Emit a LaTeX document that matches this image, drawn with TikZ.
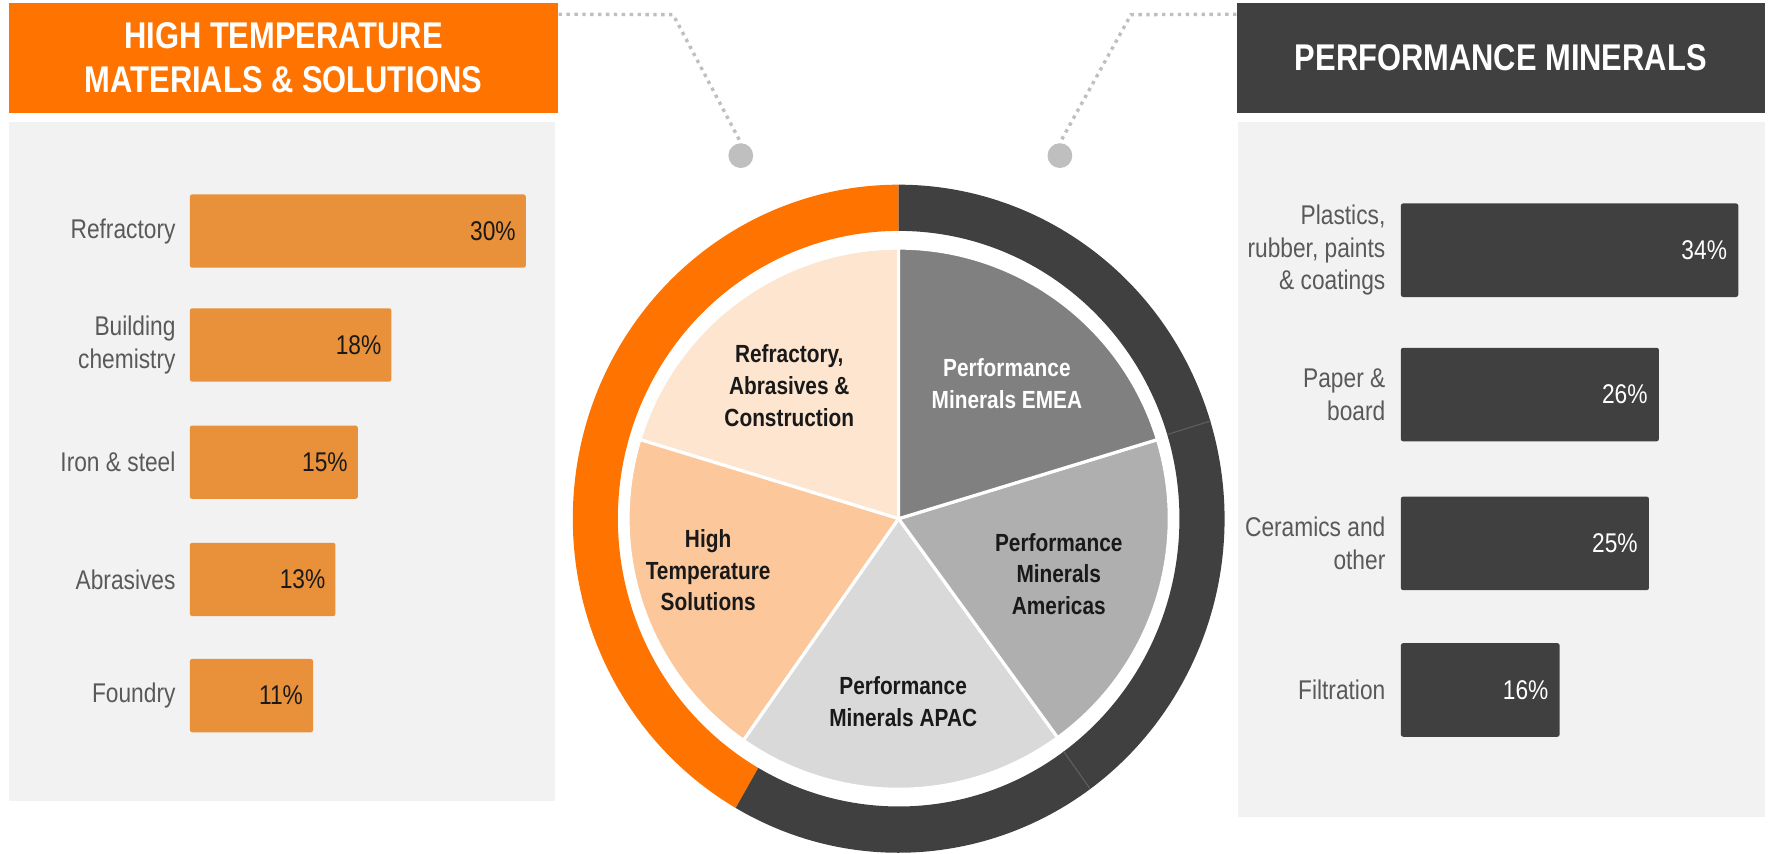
\documentclass[tikz,border=0pt]{standalone}
\usepackage{fontspec}
\setmainfont{Liberation Sans}[FakeStretch=0.84]
\newfontfamily\hdrfont{Liberation Sans}[FakeStretch=0.83]
\usetikzlibrary{calc}
\definecolor{hOrange}{HTML}{FF7300}
\definecolor{barOrange}{HTML}{E8903A}
\definecolor{darkg}{HTML}{404040}
\definecolor{panelg}{HTML}{F2F2F2}
\definecolor{lblg}{HTML}{595959}
\definecolor{dotg}{HTML}{BFBFBF}
\definecolor{sA}{HTML}{FDE5CF}
\definecolor{sB}{HTML}{FBC79B}
\definecolor{sC}{HTML}{D9D9D9}
\definecolor{sD}{HTML}{AFAFAF}
\definecolor{sE}{HTML}{808080}
\definecolor{ringln}{HTML}{5E5E5E}
\begin{document}
\begin{tikzpicture}[x=0.5pt,y=-0.5pt,
  hdr/.style={inner sep=0pt, text=white, align=center, font=\hdrfont\bfseries\fontsize{16.5}{19.5}\selectfont},
  barL/.style={fill=barOrange, rounded corners=1pt, inner sep=0pt, minimum height=32.5pt, anchor=north west},
  barR/.style={fill=darkg, rounded corners=1pt, inner sep=0pt, minimum height=41.5pt, anchor=north west},
  lbl/.style={text=lblg, align=right, anchor=east, inner sep=0pt, font=\fontsize{12}{14.5}\selectfont},
  pctL/.style={text=black!90, anchor=east, inner sep=0pt, font=\fontsize{12}{14.5}\selectfont},
  pctR/.style={text=white, anchor=east, inner sep=0pt, font=\fontsize{12}{14.5}\selectfont},
  pie/.style={align=center, inner sep=0pt, font=\bfseries\fontsize{11}{14}\selectfont},
  conn/.style={draw=dotg, line width=1.5pt, dash pattern=on 1.5pt off 2pt},
  dotc/.style={circle, fill=dotg, minimum size=11pt, inner sep=0pt},
  slice/.style={draw=white, line width=1.4pt, line join=round}
]
\useasboundingbox (0,0) rectangle (1568,757);

% headers
\node[hdr, fill=hOrange, minimum width=243.5pt, minimum height=48.5pt] (hl) at (251.5,51.5) {HIGH TEMPERATURE\\MATERIALS \& SOLUTIONS};
\node[hdr, fill=darkg, minimum width=234pt, minimum height=48.5pt] (hr) at (1331,51.5) {PERFORMANCE MINERALS};

% panels
\fill[panelg] (8,108) rectangle (492,710);
\fill[panelg] (1098,108) rectangle (1565,725);

% left bars
\foreach \lab/\p/\yt [count=\i] in {Refractory/30/172, {Building\\chemistry}/18/273, {Iron \& steel}/15/377, Abrasives/13/481, Foundry/11/584}{
  \node[barL, minimum width={4.965pt*\p}] (lb\i) at (168,\yt) {};
  \node[pctL] (lp\i) at ($(lb\i.east)+(-9,0)$) {\p\%};
  \node[lbl] (ll\i) at ($(lb\i.west)+(-12,0)$) {\lab};
}

% right bars
\foreach \lab/\p/\yt [count=\i] in {{Plastics,\\rubber, paints\\\& coatings}/34/180, {Paper \&\\board}/26/308, {Ceramics and\\other}/25/440, Filtration/16/570}{
  \node[barR, minimum width={4.4pt*\p}] (rb\i) at (1242,\yt) {};
  \node[pctR] (rp\i) at ($(rb\i.east)+(-10,0)$) {\p\%};
  \node[lbl] (rl\i) at ($(rb\i.west)+(-13,0)$) {\lab};
}

% connectors
\node[dotc] (ldot) at (657,138) {};
\node[dotc] (rdot) at (940,138) {};
\coordinate (lk) at (597,13);
\coordinate (rk) at (1003,13);
\draw[conn] ($(hl.north east)+(0,10)$) -- (lk) -- (ldot.north);
\draw[conn] ($(hr.north west)+(0,10)$) -- (rk) -- (rdot.north);

% outer ring
\begin{scope}[shift={(797,460)}, yscale=-1.025]
  \fill[hOrange] (90:289) arc[start angle=90, end angle=240, radius=289] -- (240:249) arc[start angle=240, end angle=90, radius=249] -- cycle;
  \fill[darkg] (240:289) arc[start angle=240, end angle=450, radius=289] -- (90:249) arc[start angle=450, end angle=240, radius=249] -- cycle;
  \draw[ringln, line width=0.5pt] (17:249) -- (17:289);
  \draw[ringln, line width=0.5pt] (-54:249) -- (-54:289);
\end{scope}

% pie
\begin{scope}[shift={(797,460)}, yscale=-1]
  \filldraw[slice, fill=sA] (0,0) -- (90:240) arc[start angle=90, end angle=163, radius=240] -- cycle;
  \filldraw[slice, fill=sB] (0,0) -- (163:240) arc[start angle=163, end angle=235, radius=240] -- cycle;
  \filldraw[slice, fill=sC] (0,0) -- (235:240) arc[start angle=235, end angle=306, radius=240] -- cycle;
  \filldraw[slice, fill=sD] (0,0) -- (306:240) arc[start angle=306, end angle=377, radius=240] -- cycle;
  \filldraw[slice, fill=sE] (0,0) -- (17:240) arc[start angle=17, end angle=90, radius=240] -- cycle;
\end{scope}

% pie labels
\node[pie, text=black!90] (tA) at (700,342) {Refractory,\\Abrasives \&\\Construction};
\node[pie, text=white] (tE) at (893,340) {Performance\\Minerals EMEA};
\node[pie, text=black!90] (tB) at (628,506) {High\\Temperature\\Solutions};
\node[pie, text=black!90] (tD) at (939,509) {Performance\\Minerals\\Americas};
\node[pie, text=black!90] (tC) at (801,622) {Performance\\Minerals APAC};
\end{tikzpicture}
\end{document}
